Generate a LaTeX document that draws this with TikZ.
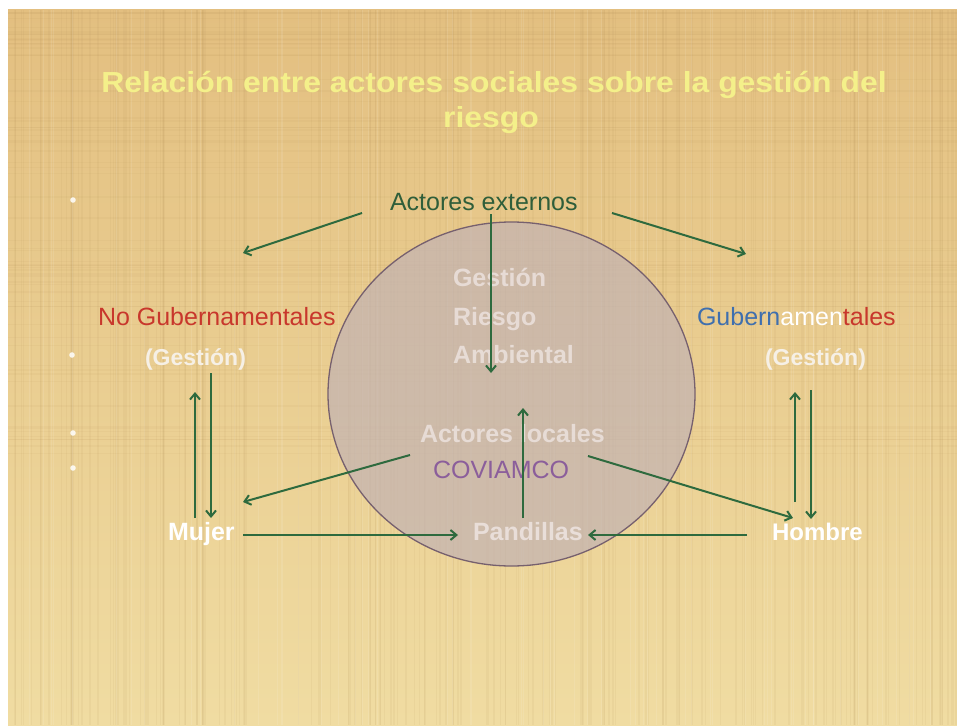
\documentclass[tikz,border=0pt]{standalone}
\usepackage{fontspec}
\setmainfont{Liberation Sans}
\usetikzlibrary{arrows.meta,shapes.geometric}
\definecolor{bgtop}{HTML}{E3BF80}
\definecolor{bgmid}{HTML}{EBD196}
\definecolor{bgbot}{HTML}{F0DCA2}
\definecolor{texb}{HTML}{A8844A}
\definecolor{titley}{HTML}{F4F08A}
\definecolor{arrowg}{HTML}{2E6A3E}
\definecolor{extg}{HTML}{2F5E3A}
\definecolor{nored}{HTML}{C8372C}
\definecolor{gblue}{HTML}{3F6FAE}
\definecolor{circfill}{HTML}{C3B3B2}
\definecolor{circline}{HTML}{76606E}
\definecolor{ghost}{HTML}{ECE2DE}
\definecolor{purp}{HTML}{8B5E9B}
\definecolor{gest}{HTML}{F6F0E6}
\begin{document}
\begin{tikzpicture}[x=1pt,y=-1pt,
  every node/.style={inner sep=0pt,outer sep=0pt},
  lbl/.style={anchor=base west,font=\fontsize{25}{30}\selectfont},
  bl/.style={anchor=base west,font=\bfseries\fontsize{25}{30}\selectfont},
  blsmall/.style={anchor=base west,font=\bfseries\fontsize{23}{28}\selectfont},
  titlestyle/.style={anchor=base,text=titley,font=\bfseries\fontsize{29}{34}\selectfont},
  conn/.style={draw=arrowg,line width=2pt,-{Straight Barb[length=6pt,width=10pt,line width=2pt]}},
  dotb/.style={fill=white,opacity=.85}]
\useasboundingbox (0,0) rectangle (957,725);
\fill[white] (0,0) rectangle (957,725);
\shade[top color=bgtop,middle color=bgmid,bottom color=bgbot] (8,10) rectangle (957,725);
% parchment texture
\pgfmathsetseed{42}
\begin{scope}
\clip (8,10) rectangle (957,725);
\foreach \i in {1,...,170}{
  \pgfmathsetmacro\xx{8+949*rnd}
  \pgfmathsetmacro\ww{0.4+2*rnd}
  \draw[draw=texb,line width=\ww pt,opacity=0.07] (\xx,10) -- (\xx,725);
}
\foreach \i in {1,...,70}{
  \pgfmathsetmacro\yy{10+450*rnd}
  \pgfmathsetmacro\ww{0.4+1.6*rnd}
  \draw[draw=texb,line width=\ww pt,opacity=0.06] (8,\yy) -- (957,\yy);
}
\foreach \i in {1,...,60}{
  \pgfmathsetmacro\xx{8+949*rnd}
  \draw[draw=white,line width=1pt,opacity=0.10] (\xx,10) -- (\xx,725);
}
\end{scope}
% bullets
\fill[dotb] (73,200) circle (2.8pt);
\fill[dotb] (72,355) circle (2.8pt);
\fill[dotb] (73,433) circle (2.8pt);
\fill[dotb] (73,468) circle (2.8pt);
% title
\node[titlestyle] (title1) at (494,92) {\scalebox{1.1}[1]{Relación entre actores sociales sobre la gestión del}};
\node[titlestyle] (title2) at (491,127) {\scalebox{1.1}[1]{riesgo}};
% circle
\node[draw=circline,fill=circfill,fill opacity=.72,line width=1.3pt,ellipse,
      minimum width=367pt,minimum height=344pt] (circ) at (511.5,394) {};
% labels
\node[lbl,text=extg] (ext) at (390,210) {Actores externos};
\node[lbl,text=nored] (nogub) at (98,325) {No Gubernamentales};
\node[lbl] (gub) at (697,325) {\textcolor{gblue}{Gubern}\textcolor{white}{amen}\textcolor{nored}{tales}};
\node[blsmall,text=gest] (gestL) at (145,365) {(Gestión)};
\node[blsmall,text=gest] (gestR) at (765,365) {(Gestión)};
\node[bl,text=ghost,text opacity=.85] (g1) at (453,286) {Gestión};
\node[bl,text=ghost,text opacity=.85] (g2) at (453,325) {Riesgo};
\node[bl,text=ghost,text opacity=.85] (g3) at (453,363) {Ambiental};
\node[bl,text=ghost,text opacity=.85] (loc) at (420,442) {Actores locales};
\node[lbl,text=purp] (cov) at (433,478) {COVIAMCO};
\node[bl,text=white] (muj) at (168,540) {Mujer};
\node[bl,text=ghost,text opacity=.9] (pan) at (473,540) {Pandillas};
\node[blsmall,text=white,font=\bfseries\fontsize{24}{28}\selectfont] (hom) at (772,540) {Hombre};
% connector end points
\coordinate (extL) at (362,213);
\coordinate (extR) at (612,213);
\coordinate (extD) at (491,214);
\coordinate (tipNG) at (243,253);
\coordinate (tipG) at (746,254);
\coordinate (tipC) at (491,373);
\coordinate (panU) at (523,518);
\coordinate (tipLoc) at (523,408);
\coordinate (locL) at (410,455);
\coordinate (tipM) at (243,502);
\coordinate (covR) at (588,456);
\coordinate (tipH) at (793,518);
\coordinate (mujR) at (243,535);
\coordinate (panL) at (458,535);
\coordinate (homL) at (747,535);
\coordinate (panR) at (588,535);
\coordinate (mujU) at (195,518);
\coordinate (gestLu) at (195,392);
\coordinate (gestLd) at (211,373);
\coordinate (mujD) at (211,518);
\coordinate (homU) at (795,502);
\coordinate (gestRu) at (795,392);
\coordinate (gestRd) at (811,390);
\coordinate (homD) at (811,519);
% connectors
\draw[conn] (extL) -- (tipNG);
\draw[conn] (extR) -- (tipG);
\draw[conn] (extD) -- (tipC);
\draw[conn] (panU) -- (tipLoc);
\draw[conn] (locL) -- (tipM);
\draw[conn] (covR) -- (tipH);
\draw[conn] (mujR) -- (panL);
\draw[conn] (homL) -- (panR);
\draw[conn] (mujU) -- (gestLu);
\draw[conn] (gestLd) -- (mujD);
\draw[conn] (homU) -- (gestRu);
\draw[conn] (gestRd) -- (homD);
\end{tikzpicture}
\end{document}
